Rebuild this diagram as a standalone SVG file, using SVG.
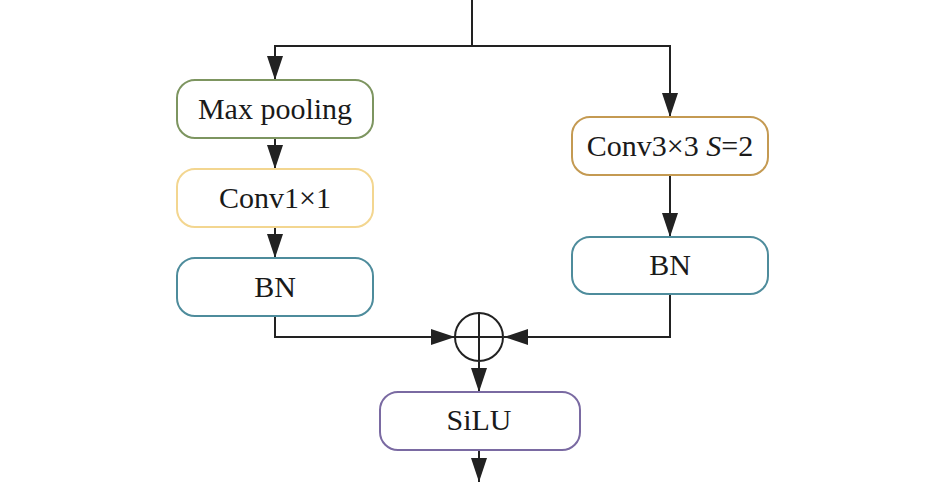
<svg xmlns="http://www.w3.org/2000/svg" width="945" height="484" viewBox="0 0 945 484">
<style>
.box{fill:#fff;stroke-width:2}
.lbl{font-family:"Liberation Serif","Times New Roman",serif;font-size:30px;fill:#1a1a1a;text-anchor:middle}
.ln{fill:none;stroke:#222;stroke-width:2}
</style>
<defs>
<marker id="ah" markerUnits="userSpaceOnUse" markerWidth="26" markerHeight="18" refX="24" refY="8" orient="auto" viewBox="0 0 26 18">
<path d="M0,0 L24,8 L0,16 z" fill="#222"/>
</marker>
</defs>
<rect width="945" height="484" fill="#fff"/>
<g id="connectors">
<path class="ln" d="M472,0 V46"/>
<path class="ln" d="M472,46 H275 V80" marker-end="url(#ah)"/>
<path class="ln" d="M472,46 H670 V117" marker-end="url(#ah)"/>
<path class="ln" d="M275,138 V169" marker-end="url(#ah)"/>
<path class="ln" d="M275,227 V258" marker-end="url(#ah)"/>
<path class="ln" d="M670,175 V237" marker-end="url(#ah)"/>
<path class="ln" d="M275,316 V337 H455" marker-end="url(#ah)"/>
<path class="ln" d="M670,294 V337 H504" marker-end="url(#ah)"/>
<path class="ln" d="M479,362 V392" marker-end="url(#ah)"/>
<path class="ln" d="M479,450 V482" marker-end="url(#ah)"/>
</g>
<g id="maxpool">
<rect class="box" x="177" y="80" width="196" height="58" rx="18" stroke="#7d9560"/>
<text class="lbl" x="275" y="119">Max pooling</text>
</g>
<g id="conv1">
<rect class="box" x="177" y="169" width="196" height="58" rx="18" stroke="#f3d690"/>
<text class="lbl" x="275" y="208">Conv1×1</text>
</g>
<g id="bn1">
<rect class="box" x="177" y="258" width="196" height="58" rx="18" stroke="#4e8c9c"/>
<text class="lbl" x="275" y="297">BN</text>
</g>
<g id="conv3">
<rect class="box" x="572" y="117" width="196" height="58" rx="18" stroke="#c49a52"/>
<text class="lbl" x="670" y="156">Conv3×3 <tspan font-style="italic">S</tspan>=2</text>
</g>
<g id="bn2">
<rect class="box" x="572" y="237" width="196" height="57" rx="18" stroke="#4e8c9c"/>
<text class="lbl" x="670" y="275">BN</text>
</g>
<g id="add">
<circle cx="479" cy="337" r="24" fill="#fff" stroke="#222" stroke-width="2"/>
<path class="ln" d="M455,337 H503 M479,313 V361"/>
</g>
<g id="silu">
<rect class="box" x="380" y="392" width="200" height="58" rx="18" stroke="#7a6aa2"/>
<text class="lbl" x="479" y="430">SiLU</text>
</g>
</svg>
